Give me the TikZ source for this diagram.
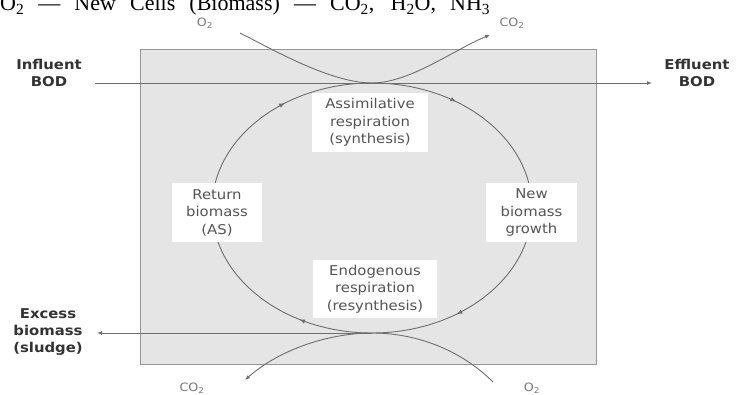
\documentclass[tikz,border=0pt]{standalone}
\usepackage{fontspec}
\setmainfont{DejaVu Sans}[FakeStretch=1.1]
\newfontfamily\eqfont{Liberation Serif}
\usetikzlibrary{arrows.meta,decorations.markings}
\definecolor{panel}{RGB}{229,229,229}
\definecolor{wirec}{RGB}{110,110,110}
\definecolor{edgec}{RGB}{150,150,150}
\definecolor{ink}{RGB}{85,85,85}
\definecolor{gasc}{RGB}{120,120,120}
\tikzstyle{stage}=[rectangle, fill=white, draw=none, text=ink, align=center,
        inner sep=0pt, font=\fontsize{13.5}{17.5}\selectfont]
\tikzstyle{flowlabel}=[align=center, text=black!80, inner sep=0pt,
        font=\bfseries\fontsize{13.5}{17}\selectfont]
\tikzstyle{gaslabel}=[text=gasc, inner sep=0pt, font=\fontsize{11.5}{11.5}\selectfont]
\tikzstyle{flow}=[draw=wirec, line width=0.9pt]
\tikzstyle{tip}=[-{Latex[length=5pt,width=4pt]}]
\tikzstyle{biocycle}=[flow, postaction={decorate}, decoration={markings,
        mark=at position 0.153 with {\arrow{Latex[length=6pt,width=4.5pt]}},
        mark=at position 0.333 with {\arrow{Latex[length=6pt,width=4.5pt]}},
        mark=at position 0.65 with {\arrow{Latex[length=6pt,width=4.5pt]}},
        mark=at position 0.847 with {\arrow{Latex[length=6pt,width=4.5pt]}}}]

\begin{document}
\begin{tikzpicture}[x=1pt,y=1pt]
\useasboundingbox (0,0) rectangle (736,394);
% equation line, cut by the top edge
\node[anchor=base west, inner sep=0pt] (eqn) at (0,383)
    {\eqfont\fontsize{22}{22}\selectfont\hbox to 490pt{O\textsubscript{2} — New Cells (Biomass) — CO\textsubscript{2}, H\textsubscript{2}O, NH\textsubscript{3}}};
\filldraw[fill=panel, draw=edgec, line width=0.8pt] (140,30) rectangle (596,345);
\coordinate (top) at (372,311);
\coordinate (bot) at (372,61);
\coordinate (inL) at (95,311);
\coordinate (outR) at (652,311);
\coordinate (sludgeL) at (97,61);
\coordinate (o2in) at (240,361);
\coordinate (co2out) at (490,359);
\coordinate (co2bot) at (245,14);
\coordinate (o2bot) at (493,12);
% gases
\node[gaslabel] (o2top) at (205,371) {O\textsubscript{2}};
\node[gaslabel] (co2top) at (512,371) {CO\textsubscript{2}};
\node[gaslabel] (co2low) at (192,6) {CO\textsubscript{2}};
\node[gaslabel] (o2low) at (532,6) {O\textsubscript{2}};
% biomass cycle
\draw[biocycle] (532,186) arc[start angle=0, end angle=-360, x radius=160, y radius=125];
\draw[flow] (o2in) .. controls (270,346) and (330,311) .. (top);
\draw[flow,tip] (top) .. controls (410,311) and (455,345) .. (co2out);
\draw[flow] (o2bot) .. controls (460,45) and (415,61) .. (bot);
\draw[flow,tip] (bot) .. controls (330,61) and (280,45) .. (co2bot);
\draw[flow,tip] (inL) -- (outR);
\draw[flow,tip] (bot) -- (sludgeL);
% stages
\node[stage, minimum width=116pt, minimum height=59pt] (assim) at (370,271.5) {Assimilative\\respiration\\(synthesis)};
\node[stage, minimum width=90pt, minimum height=59pt] (return) at (217,181.5) {Return\\biomass\\(AS)};
\node[stage, minimum width=91pt, minimum height=59pt] (growth) at (531.5,181.5) {New\\biomass\\growth};
\node[stage, minimum width=124pt, minimum height=58pt] (endo) at (375,105) {Endogenous\\respiration\\(resynthesis)};
% in and out
\node[flowlabel] (influent) at (49,321.5) {Influent\\BOD};
\node[flowlabel] (effluent) at (697,321) {Effluent\\BOD};
\node[flowlabel] (sludge) at (48,62) {Excess\\biomass\\(sludge)};
\end{tikzpicture}
\end{document}
